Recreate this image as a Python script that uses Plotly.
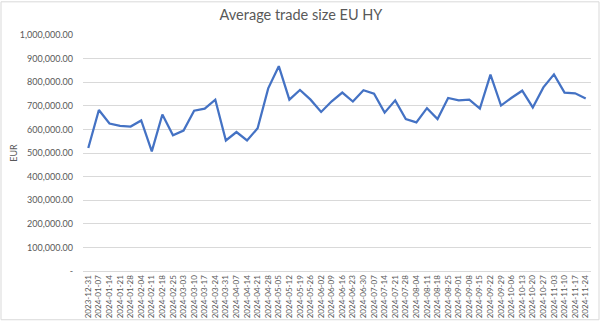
import plotly.graph_objects as go

weeks = [
    "2023-12-31", "2024-01-07", "2024-01-14", "2024-01-21", "2024-01-28", "2024-02-04",
    "2024-02-11", "2024-02-18", "2024-02-25", "2024-03-03", "2024-03-10", "2024-03-17",
    "2024-03-24", "2024-03-31", "2024-04-07", "2024-04-14", "2024-04-21", "2024-04-28",
    "2024-05-05", "2024-05-12", "2024-05-19", "2024-05-26", "2024-06-02", "2024-06-09",
    "2024-06-16", "2024-06-23", "2024-06-30", "2024-07-07", "2024-07-14", "2024-07-21",
    "2024-07-28", "2024-08-04", "2024-08-11", "2024-08-18", "2024-08-25", "2024-09-01",
    "2024-09-08", "2024-09-15", "2024-09-22", "2024-09-29", "2024-10-06", "2024-10-13",
    "2024-10-20", "2024-10-27", "2024-11-03", "2024-11-10", "2024-11-17", "2024-11-24",
]

avg_trade_size = [
    521000, 682000, 625000, 615000, 612000, 638000,
    507000, 663000, 575000, 595000, 679000, 688000,
    726000, 553000, 589000, 553000, 605000, 774000,
    868000, 726000, 767000, 726000, 674000, 719000,
    756000, 718000, 766000, 751000, 671000, 723000,
    644000, 630000, 690000, 644000, 733000, 723000,
    726000, 688000, 832000, 701000, 734000, 764000,
    693000, 778000, 833000, 756000, 753000, 731000,
]

y_tick_values = [0, 100000, 200000, 300000, 400000, 500000, 600000, 700000, 800000, 900000, 1000000]
y_tick_labels = ["-"] + [f"{v:,.2f}" for v in y_tick_values[1:]]

W, H = 602, 329
L, R, T, B = 83, 11, 35, 52
pw, ph = W - L - R, H - T - B

def px_x(p):
    return (p - L) / pw

def px_y(p):
    return (H - B - p) / ph

fig = go.Figure()
fig.add_trace(go.Scatter(
    x=weeks, y=avg_trade_size, mode="lines",
    line=dict(color="#4472C4", width=2.25),
    hoverinfo="x+y",
))

grey = "#595959"
fig.update_layout(
    width=W, height=H,
    margin=dict(l=L, r=R, t=T, b=B, pad=0),
    paper_bgcolor="white", plot_bgcolor="white",
    showlegend=False,
    title=dict(text="Average trade size EU HY", x=0.5, xanchor="center",
               xref="container", y=1 - 15 / H, yref="container", yanchor="middle",
               font=dict(family="Lato", size=14.5, color=grey)),
    font=dict(family="Lato", color=grey),
    xaxis=dict(type="category", range=[-0.5, len(weeks) - 0.5],
               tickangle=-90, tickfont=dict(size=8, color=grey),
               showgrid=False, showline=True, linecolor="#D9D9D9", linewidth=1,
               ticks="", zeroline=False),
    yaxis=dict(range=[0, 1000000], tickvals=y_tick_values, ticktext=y_tick_labels,
               tickfont=dict(size=9, color=grey), showgrid=True, gridcolor="#D9D9D9",
               gridwidth=1, zeroline=False, showline=False, ticks="",
               ticklabelstandoff=9,
               title=dict(text="EUR", font=dict(size=9, color=grey), standoff=0)),
    shapes=[dict(type="rect", xref="paper", yref="paper",
                 x0=px_x(1), x1=px_x(599), y0=px_y(327), y1=px_y(1),
                 line=dict(color="#D9D9D9", width=1), fillcolor="rgba(0,0,0,0)",
                 layer="below")],
)

fig.write_html("out.html")
